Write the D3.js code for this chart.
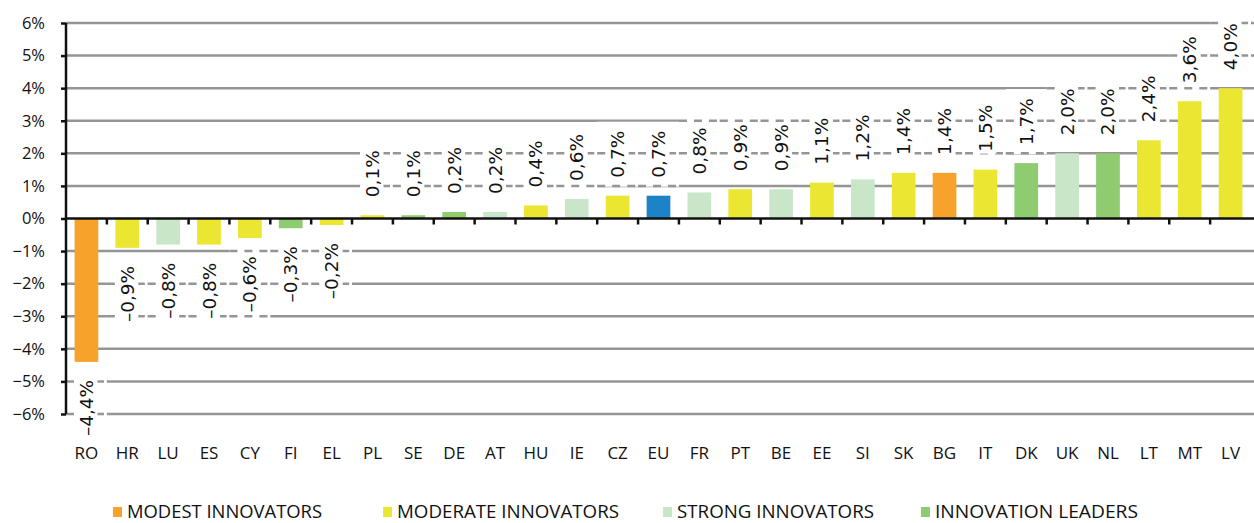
<!DOCTYPE html>
<html>
<head>
<meta charset="utf-8">
<script src="https://cdn.jsdelivr.net/npm/d3@7/dist/d3.min.js"></script>
<style>
  html, body { margin: 0; padding: 0; background: #fff; }
  svg { display: block; font-family: "Open Sans", "Noto Sans", sans-serif; }
</style>
</head>
<body>
<svg id="chart" width="1254" height="523"></svg>
<script>
const categories = ["RO","HR","LU","ES","CY","FI","EL","PL","SE","DE","AT","HU","IE","CZ","EU","FR","PT","BE","EE","SI","SK","BG","IT","DK","UK","NL","LT","MT","LV"];
const values = [-4.4,-0.9,-0.8,-0.8,-0.6,-0.3,-0.2,0.1,0.1,0.2,0.2,0.4,0.6,0.7,0.7,0.8,0.9,0.9,1.1,1.2,1.4,1.4,1.5,1.7,2.0,2.0,2.4,3.6,4.0];
const groups = ["modest","moderate","strong","moderate","moderate","leader","moderate","moderate","leader","leader","strong","moderate","strong","moderate","eu","strong","moderate","strong","moderate","strong","moderate","modest","moderate","leader","strong","leader","moderate","moderate","moderate"];
const legendKeys = ["modest","moderate","strong","leader"];
const legendLabels = ["MODEST INNOVATORS","MODERATE INNOVATORS","STRONG INNOVATORS","INNOVATION LEADERS"];
const yTicks = [-6,-5,-4,-3,-2,-1,0,1,2,3,4,5,6];
const groupColors = {modest:"#F7A22B", moderate:"#EBE632", strong:"#C9E6C9", leader:"#8FCB6F", eu:"#1E82C6"};

const svg = d3.select("#chart");
const x = d3.scaleBand().domain(categories).range([66, 1251]).paddingInner(0.42).paddingOuter(0.21);
const y = d3.scaleLinear().domain([-6, 6]).range([414, 23]);
const step = x.step();
const fmt = v => (v < 0 ? "\u2013" : "") + Math.abs(v).toFixed(1).replace(".", ",") + "%";
const gridColor = "#959595";

// gridlines
const grid = svg.append("g");
grid.selectAll("line").data(yTicks.filter(t => t !== 0)).join("line")
  .attr("x1", 66).attr("x2", 1254)
  .attr("y1", d => y(d)).attr("y2", d => y(d))
  .attr("stroke", gridColor).attr("stroke-width", 2.5);

// label geometry
const fs = 18.5;
const labelFont = "\"DejaVu Sans\", sans-serif";
const labelData = categories.map((c, i) => {
  const v = values[i];
  return {c, v, txt: fmt(v), cx: x(c) + x.bandwidth() / 2};
});

const meas = svg.append("text").attr("font-size", fs).attr("font-family", labelFont).attr("visibility", "hidden");
labelData.forEach(d => { meas.text(d.txt); d.len = meas.node().getComputedTextLength(); });
meas.remove();

labelData.forEach(d => {
  if (d.v >= 0) { d.bottom = y(d.v) - 18; d.top = d.bottom - d.len; }
  else { d.top = y(d.v) + 18; d.bottom = d.top + d.len; }
});

// label boxes
const boxes = svg.append("g");
labelData.forEach(d => {
  const bx0 = d.cx - step / 2, bx1 = d.cx + step / 2;
  const by0 = d.top - 9, by1 = d.bottom + 9;
  boxes.append("rect").attr("x", bx0).attr("y", by0).attr("width", step).attr("height", by1 - by0).attr("fill", "#fff");
  yTicks.filter(t => t !== 0 && y(t) > by0 && y(t) < by1).forEach(t => {
    boxes.append("line").attr("x1", bx0).attr("x2", bx1).attr("y1", y(t)).attr("y2", y(t))
      .attr("stroke", gridColor).attr("stroke-width", 2.5).attr("stroke-dasharray", "8,7");
  });
});

// bars
svg.append("g").selectAll("rect").data(categories).join("rect")
  .attr("x", d => x(d))
  .attr("width", x.bandwidth())
  .attr("y", (d, i) => y(Math.max(0, values[i])))
  .attr("height", (d, i) => Math.abs(y(values[i]) - y(0)))
  .attr("fill", (d, i) => groupColors[groups[i]]);

// value labels
const lg = svg.append("g");
labelData.forEach(d => {
  lg.append("rect").attr("x", d.cx - 11).attr("y", d.top - 2).attr("width", 22).attr("height", d.len + 4).attr("fill", "#fff");
  lg.append("text")
    .attr("transform", `translate(${d.cx},${d.v >= 0 ? d.bottom : d.top}) rotate(-90)`)
    .attr("text-anchor", d.v >= 0 ? "start" : "end")
    .attr("dominant-baseline", "central")
    .attr("font-size", fs).attr("font-family", labelFont).attr("fill", "#111")
    .text(d.txt);
});

// y axis
const yAxis = d3.axisLeft(y).tickValues(yTicks).tickSize(5).tickPadding(16)
  .tickFormat(d => (d < 0 ? "\u2212" : "") + Math.abs(d) + "%");
const ya = svg.append("g").attr("transform", "translate(66,0)").call(yAxis);
ya.select(".domain").attr("stroke", "#111").attr("stroke-width", 2.5).attr("d", `M0,${y(6)}V${y(-6)}`);
ya.selectAll(".tick line").attr("stroke", "#111").attr("stroke-width", 2.5);
ya.selectAll(".tick text").attr("font-size", 16.5).attr("fill", "#111").attr("font-family", "\"Open Sans\", sans-serif");

// x axis at zero
const xAxis = d3.axisBottom(x).tickSize(0).tickFormat("");
const xa = svg.append("g").attr("transform", `translate(0,${y(0)})`).call(xAxis);
xa.select(".domain").attr("stroke", "#111").attr("stroke-width", 2.5).attr("d", `M66,0H1254`);
xa.selectAll(".tick").remove();
xa.selectAll("line.sep").data(categories.slice(1)).join("line").attr("class", "sep")
  .attr("x1", d => x(d) - x.step() * x.paddingInner() / 2)
  .attr("x2", d => x(d) - x.step() * x.paddingInner() / 2)
  .attr("y1", 0).attr("y2", 6).attr("stroke", "#111").attr("stroke-width", 2.5);

// category labels
svg.append("g").selectAll("text").data(categories).join("text")
  .attr("x", d => x(d) + x.bandwidth() / 2).attr("y", 452)
  .attr("text-anchor", "middle").attr("dominant-baseline", "central")
  .attr("font-size", 17).attr("fill", "#111").text(d => d);

// legend
const legendX = [113, 383, 663, 921];
const legendW = [195, 222, 197, 203];
const leg = svg.append("g");
legendKeys.forEach((k, i) => {
  leg.append("rect").attr("x", legendX[i]).attr("y", 507).attr("width", 9).attr("height", 10).attr("fill", groupColors[k]);
  leg.append("text").attr("x", legendX[i] + 14).attr("y", 518)
    .attr("textLength", legendW[i]).attr("lengthAdjust", "spacingAndGlyphs")
    .attr("font-size", 18.5).attr("fill", "#111").text(legendLabels[i]);
});
</script>
</body>
</html>
